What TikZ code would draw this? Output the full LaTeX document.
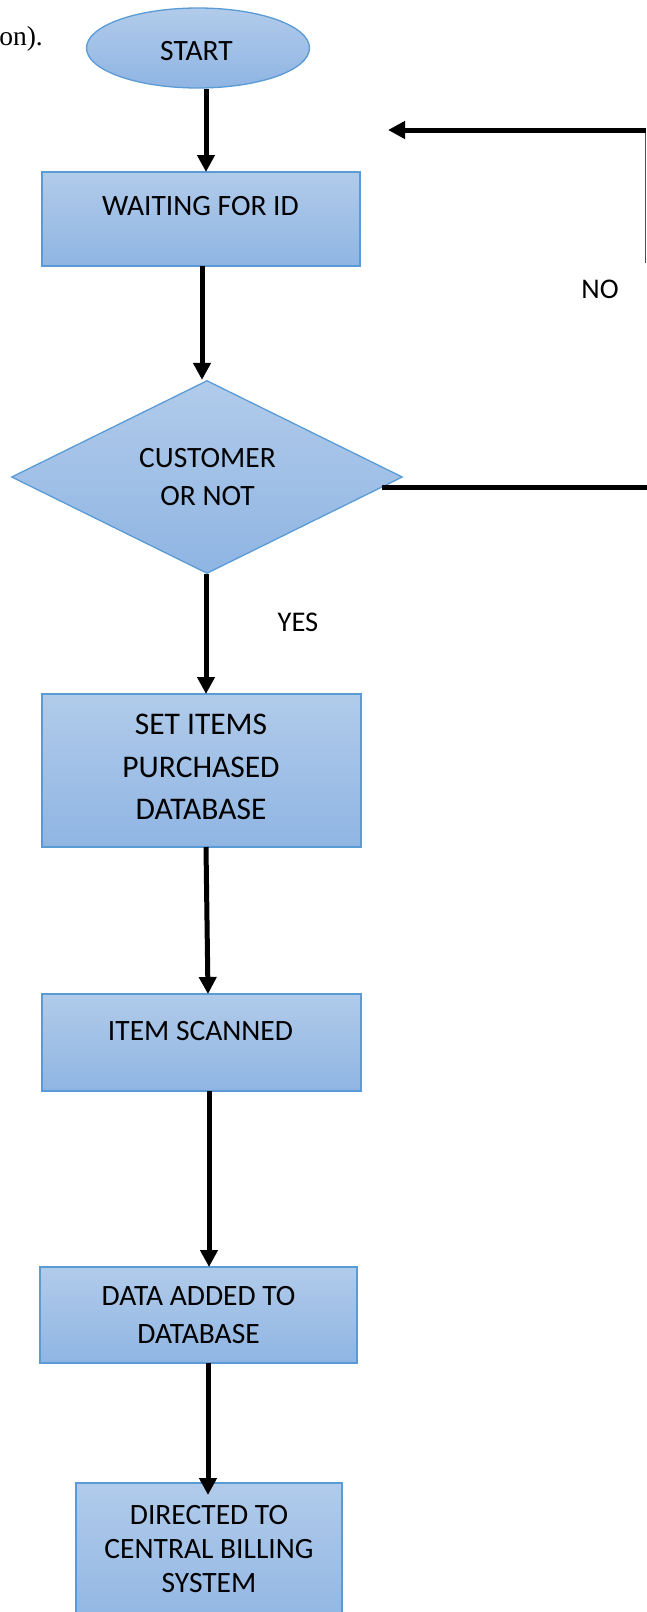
\documentclass[tikz,border=0pt]{standalone}
\usepackage{fontspec}
\setmainfont{Carlito}
\newfontfamily\serifface{Liberation Serif}
\usetikzlibrary{shapes.geometric,arrows.meta}
\definecolor{boxtop}{RGB}{177,203,234}
\definecolor{boxbot}{RGB}{143,181,227}
\definecolor{boxline}{RGB}{91,155,213}
\begin{document}
\begin{tikzpicture}[x=1pt,y=-1pt,
  shapebox/.style={draw=boxline, line width=1.3pt, top color=boxtop, bottom color=boxbot, inner sep=0pt, anchor=center},
  rectbox/.style={shapebox, rectangle},
  lbl/.style={align=center, inner sep=0pt, text=black},
  flow/.style={line width=5pt, -{Triangle[length=17pt,width=17pt]}},
  plainline/.style={line width=5pt},
]
\useasboundingbox (0,0) rectangle (647,1612);

% partial text at top left
\node[anchor=base east, inner sep=0pt, font=\serifface\fontsize{27.5}{30}\selectfont] (ontxt) at (43,45) {on).};

% shapes
\node[shapebox, ellipse, minimum width=223pt, minimum height=80pt] (start) at (198,48) {};
\node[rectbox, minimum width=318pt, minimum height=94pt] (b1) at (201,219) {};
\node[shapebox, diamond, minimum width=391pt, minimum height=193pt] (dec) at (207,477) {};
\node[rectbox, minimum width=319pt, minimum height=153pt] (b2) at (201.5,770.5) {};
\node[rectbox, minimum width=319pt, minimum height=97pt] (b3) at (201.5,1042.5) {};
\node[rectbox, minimum width=317pt, minimum height=96pt] (b4) at (198.5,1315) {};
\node[rectbox, minimum width=266pt, minimum height=150pt] (b5) at (209,1558) {};

% texts
\node[lbl, font=\fontsize{29.5}{34}\selectfont] (tstart) at (196.5,51) {START};
\node[lbl, font=\fontsize{29.5}{34}\selectfont] (tb1) at (200.5,206) {WAITING FOR ID};
\node[lbl, font=\fontsize{29.5}{38}\selectfont] (tdec) at (207.5,477) {CUSTOMER\\OR NOT};
\node[lbl, font=\fontsize{31.5}{42.5}\selectfont] (tb2) at (201,767) {SET ITEMS\\PURCHASED\\DATABASE};
\node[lbl, font=\fontsize{29.5}{34}\selectfont] (tb3) at (200.5,1031) {ITEM SCANNED};
\node[lbl, font=\fontsize{29.5}{38}\selectfont] (tb4) at (198.5,1315) {DATA ADDED TO\\DATABASE};
\node[lbl, font=\fontsize{29.5}{34}\selectfont] (tb5) at (209,1549) {DIRECTED TO\\CENTRAL BILLING\\SYSTEM};
\node[lbl, font=\fontsize{28.5}{34}\selectfont] (tno) at (600,289) {NO};
\node[lbl, font=\fontsize{28.5}{34}\selectfont] (tyes) at (298,622) {YES};

% connectors
\draw[flow] (start.south -| 206,0) -- (206,172);
\draw[flow] (202,266) -- (dec.north -| 202,0);
\draw[flow] (dec.south -| 206,0) -- (206,694);
\draw[flow] (206,847) -- (208,994);
\draw[flow] (209,1091) -- (209,1267);
\draw[flow] (208,1363) -- (208,1495);

% NO loop
\coordinate (nst) at (382,487);
\coordinate (nbr) at (650,487);
\coordinate (nvb) at (645.5,263);
\coordinate (ntr) at (645.5,130);
\coordinate (ntip) at (388,130);
\draw[plainline] (nst) -- (nbr);
\draw[line width=1pt, black!70] (nvb) -- (ntr);
\draw[flow] (ntr) -- (ntip);
\end{tikzpicture}
\end{document}
